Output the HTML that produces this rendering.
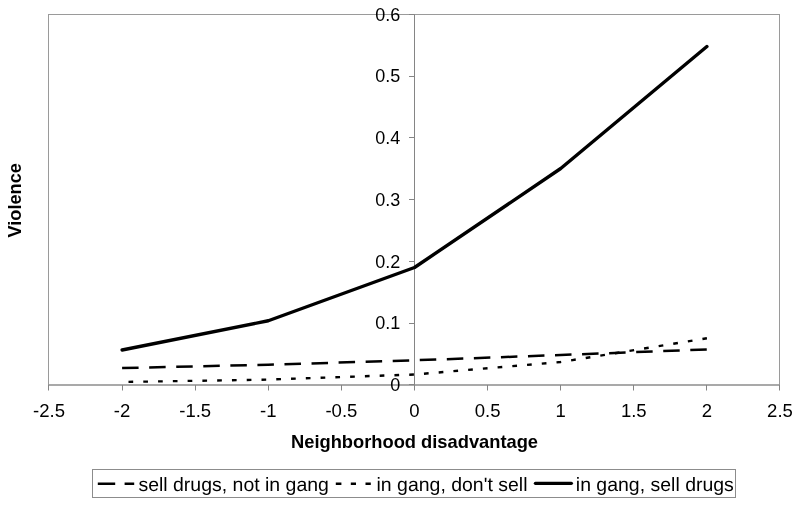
<!DOCTYPE html>
<html lang="en"><head><meta charset="utf-8"><title>Violence by neighborhood disadvantage</title>
<style>html,body{margin:0;padding:0;background:#fff;}body{width:800px;height:506px;overflow:hidden;}svg{display:block;}text{font-family:"Liberation Sans",Arial,sans-serif;fill:#000;}.t{font-size:18px;}.b{font-size:18px;font-weight:bold;}.lg{font-size:19.3px;text-rendering:geometricPrecision;}</style></head><body>
<svg width="800" height="506" viewBox="0 0 800 506">
<rect width="800" height="506" fill="#fff"/>
<rect x="48.5" y="14.5" width="731.0" height="370.5" fill="none" stroke="#9a9a9a" stroke-width="1"/>
<line x1="48.5" y1="385.0" x2="779.5" y2="385.0" stroke="#858585" stroke-width="1"/>
<line x1="414.5" y1="14.5" x2="414.5" y2="385.0" stroke="#858585" stroke-width="1"/>
<g stroke="#858585" stroke-width="1"><line x1="48.5" y1="385.0" x2="48.5" y2="390.5"/><line x1="122.5" y1="385.0" x2="122.5" y2="390.5"/><line x1="195.5" y1="385.0" x2="195.5" y2="390.5"/><line x1="268.5" y1="385.0" x2="268.5" y2="390.5"/><line x1="341.5" y1="385.0" x2="341.5" y2="390.5"/><line x1="414.5" y1="385.0" x2="414.5" y2="390.5"/><line x1="487.5" y1="385.0" x2="487.5" y2="390.5"/><line x1="560.5" y1="385.0" x2="560.5" y2="390.5"/><line x1="633.5" y1="385.0" x2="633.5" y2="390.5"/><line x1="706.5" y1="385.0" x2="706.5" y2="390.5"/><line x1="779.5" y1="385.0" x2="779.5" y2="390.5"/><line x1="409" y1="384.5" x2="414.5" y2="384.5"/><line x1="409" y1="323.5" x2="414.5" y2="323.5"/><line x1="409" y1="261.5" x2="414.5" y2="261.5"/><line x1="409" y1="199.5" x2="414.5" y2="199.5"/><line x1="409" y1="137.5" x2="414.5" y2="137.5"/><line x1="409" y1="76.5" x2="414.5" y2="76.5"/><line x1="409" y1="14.5" x2="414.5" y2="14.5"/></g>
<text class="t" transform="translate(49.0,417) scale(1.03,1)" text-anchor="middle">-2.5</text>
<text class="t" transform="translate(122.1,417) scale(1.03,1)" text-anchor="middle">-2</text>
<text class="t" transform="translate(195.2,417) scale(1.03,1)" text-anchor="middle">-1.5</text>
<text class="t" transform="translate(268.3,417) scale(1.03,1)" text-anchor="middle">-1</text>
<text class="t" transform="translate(341.4,417) scale(1.03,1)" text-anchor="middle">-0.5</text>
<text class="t" transform="translate(414.5,417) scale(1.03,1)" text-anchor="middle">0</text>
<text class="t" transform="translate(487.6,417) scale(1.03,1)" text-anchor="middle">0.5</text>
<text class="t" transform="translate(560.7,417) scale(1.03,1)" text-anchor="middle">1</text>
<text class="t" transform="translate(633.8,417) scale(1.03,1)" text-anchor="middle">1.5</text>
<text class="t" transform="translate(706.9,417) scale(1.03,1)" text-anchor="middle">2</text>
<text class="t" transform="translate(780.0,417) scale(1.03,1)" text-anchor="middle">2.5</text>
<text class="t" transform="translate(400.3,391.0)" text-anchor="end">0</text>
<text class="t" transform="translate(400.3,329.2)" text-anchor="end">0.1</text>
<text class="t" transform="translate(400.3,267.5)" text-anchor="end">0.2</text>
<text class="t" transform="translate(400.3,205.7)" text-anchor="end">0.3</text>
<text class="t" transform="translate(400.3,144.0)" text-anchor="end">0.4</text>
<text class="t" transform="translate(400.3,82.2)" text-anchor="end">0.5</text>
<text class="t" transform="translate(400.3,20.5)" text-anchor="end">0.6</text>
<polyline points="122.1,368.00 268.3,364.70 414.5,360.30 560.7,355.00 706.9,349.40" fill="none" stroke="#000" stroke-width="2.5" stroke-dasharray="16.5 10.57"/>
<polyline points="122.1,382.00 268.3,379.60 414.5,374.50 560.7,362.00 706.9,338.30" fill="none" stroke="#000" stroke-width="2.4" stroke-dasharray="4.7 10.08" stroke-dashoffset="-6.4"/>
<polyline points="122.1,350.00 268.3,320.75 414.5,267.50 560.7,168.50 706.9,46.50" fill="none" stroke="#000" stroke-width="3.4" stroke-linecap="round" stroke-linejoin="round"/>
<text class="b" transform="translate(291.0,448.2) scale(1.0175,1)">Neighborhood disadvantage</text>
<text class="b" transform="translate(20.9,237.5) rotate(-90) scale(1.01,1.06)">Violence</text>
<rect x="92.5" y="469.5" width="643" height="28" fill="#fff" stroke="#8c8c8c" stroke-width="1"/>
<path d="M97.8 483.7H115.2M124.6 483.7H134.2" stroke="#000" stroke-width="2.6" fill="none"/>
<text class="lg" transform="translate(138.4,490.6) scale(1.01,1)">sell drugs, not in gang</text>
<path d="M335.8 483.7h5.6M350.8 483.7h5.2M365.5 483.7h5.3" stroke="#000" stroke-width="2.6" fill="none"/>
<text class="lg" transform="translate(376.5,490.6) scale(1.01,1)">in gang, don't sell</text>
<path d="M535.4 483.3H571.4" stroke="#000" stroke-width="3.2" stroke-linecap="round" fill="none"/>
<text class="lg" transform="translate(575.8,490.6) scale(1.01,1)">in gang, sell drugs</text>
</svg></body></html>
